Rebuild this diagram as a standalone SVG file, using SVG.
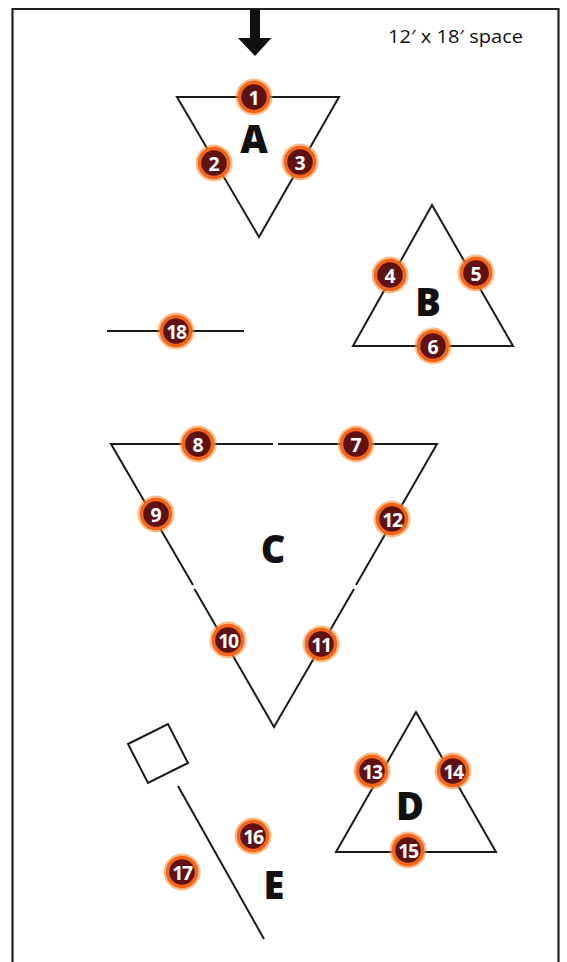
<svg xmlns="http://www.w3.org/2000/svg" width="567" height="962" viewBox="0 0 567 962">
<style>
.frame{fill:none;stroke:#222;stroke-width:2.2}
.ln{fill:none;stroke:#1a1a1a;stroke-width:2;stroke-linejoin:miter}
.glow{fill:#f7913a;opacity:0.6}
.ring{fill:#5e1212;stroke:#f2651a;stroke-width:3.5}
.num{font-family:"Open Sans","Liberation Sans",sans-serif;font-weight:700;font-size:19.5px;fill:#fff;text-anchor:middle;dominant-baseline:central}
.lbl{font-family:"Open Sans","Liberation Sans",sans-serif;font-weight:800;font-size:38px;fill:#111;text-anchor:middle;dominant-baseline:central}
.note{font-family:"Open Sans","Liberation Sans",sans-serif;font-size:19px;fill:#111}
</style>
<defs>
<g id="dot"><circle class="glow" r="18.5"/><circle class="ring" r="14.5"/></g>
</defs>
<rect width="567" height="962" fill="#fff"/>
<path class="frame" d="M12.5,964 V9 H558.5 V964"/>
<text class="note" x="388" y="43" textLength="135" lengthAdjust="spacingAndGlyphs">12′ x 18′ space</text>
<g id="entry-arrow"><path d="M250,9 H260 V38 H271.5 L255,56 L238,38 H250 Z" fill="#111"/></g>
<g id="connectors">
<polygon class="ln" points="177,97 339,97 259,237"/>
<polygon class="ln" points="432,205 513,346 353,346"/>
<line class="ln" x1="107" y1="331" x2="244" y2="331"/>
<path class="ln" d="M273,444 H111 L193,585 M194.5,589 L274,727 L354,589 M356,585 L437,444 H278"/>
<polygon class="ln" points="416,712 496,852 336,852"/>
<polygon class="ln" points="128,744 168,724 188,763 148,783"/>
<line class="ln" x1="178" y1="786" x2="264" y2="939"/>
</g>
<g id="label-A"><text class="lbl" x="254" y="138">A</text></g>
<g id="label-B"><text class="lbl" x="428" y="301">B</text></g>
<g id="label-C"><text class="lbl" x="273" y="548">C</text></g>
<g id="label-D"><text class="lbl" x="410" y="805">D</text></g>
<g id="label-E"><text class="lbl" x="274" y="884">E</text></g>
<g id="p1"><use href="#dot" x="254" y="97"/><text class="num" x="254" y="97">1</text></g>
<g id="p2"><use href="#dot" x="214" y="163"/><text class="num" x="214" y="163">2</text></g>
<g id="p3"><use href="#dot" x="300" y="162"/><text class="num" x="300" y="162">3</text></g>
<g id="p4"><use href="#dot" x="390" y="275"/><text class="num" x="390" y="275">4</text></g>
<g id="p5"><use href="#dot" x="476" y="273"/><text class="num" x="476" y="273">5</text></g>
<g id="p6"><use href="#dot" x="433" y="346"/><text class="num" x="433" y="346">6</text></g>
<g id="p7"><use href="#dot" x="356" y="444"/><text class="num" x="356" y="444">7</text></g>
<g id="p8"><use href="#dot" x="198" y="444"/><text class="num" x="198" y="444">8</text></g>
<g id="p9"><use href="#dot" x="156" y="514"/><text class="num" x="156" y="514">9</text></g>
<g id="p10"><use href="#dot" x="228" y="640"/><text class="num" x="228" y="640" letter-spacing="-1.5">10</text></g>
<g id="p11"><use href="#dot" x="321" y="644"/><text class="num" x="321" y="644" letter-spacing="-1.5">11</text></g>
<g id="p12"><use href="#dot" x="392" y="519"/><text class="num" x="392" y="519" letter-spacing="-1.5">12</text></g>
<g id="p13"><use href="#dot" x="372" y="771"/><text class="num" x="372" y="771" letter-spacing="-1.5">13</text></g>
<g id="p14"><use href="#dot" x="453" y="771"/><text class="num" x="453" y="771" letter-spacing="-1.5">14</text></g>
<g id="p15"><use href="#dot" x="408" y="850"/><text class="num" x="408" y="850" letter-spacing="-1.5">15</text></g>
<g id="p16"><use href="#dot" x="253" y="836"/><text class="num" x="253" y="836" letter-spacing="-1.5">16</text></g>
<g id="p17"><use href="#dot" x="182" y="872"/><text class="num" x="182" y="872" letter-spacing="-1.5">17</text></g>
<g id="p18"><use href="#dot" x="176" y="331"/><text class="num" x="176" y="331" letter-spacing="-1.5">18</text></g>
</svg>
